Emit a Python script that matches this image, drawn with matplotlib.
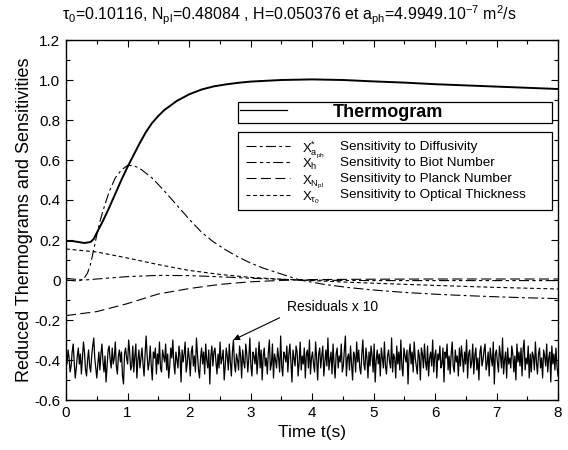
import numpy as np
import matplotlib
matplotlib.use("Agg")
import matplotlib.pyplot as plt
from matplotlib.lines import Line2D
from matplotlib.ticker import MultipleLocator, FuncFormatter

plt.rcParams['font.family'] = ['Liberation Sans', 'DejaVu Sans']
plt.rcParams['mathtext.fontset'] = 'custom'
plt.rcParams['mathtext.rm'] = 'Liberation Sans'
plt.rcParams['mathtext.it'] = 'Liberation Sans'
plt.rcParams['mathtext.default'] = 'regular'

# ---------------- data ----------------
thermo_t = [0, 0.1, 0.2, 0.3, 0.4, 0.45, 0.5, 0.6, 0.7, 0.8, 0.9, 1.0, 1.1, 1.2, 1.3,
            1.4, 1.5, 1.6, 1.8, 2.0, 2.2, 2.4, 2.6, 2.8, 3.0, 3.5, 4.0, 4.5, 5.0,
            5.5, 6.0, 6.5, 7.0, 7.5, 8.0]
thermo_y = [0.195, 0.195, 0.19, 0.185, 0.19, 0.205, 0.235, 0.295, 0.36, 0.43, 0.50, 0.565,
            0.625, 0.685, 0.74, 0.785, 0.82, 0.85, 0.895, 0.928, 0.952, 0.968, 0.978,
            0.986, 0.992, 1.0, 1.003, 1.0, 0.993, 0.987, 0.979, 0.973, 0.967, 0.961, 0.955]

diff_t = [0, 0.1, 0.2, 0.25, 0.3, 0.35, 0.4, 0.45, 0.5, 0.55, 0.6, 0.7, 0.8, 0.9, 1.0,
          1.1, 1.2, 1.4, 1.6, 1.8, 2.0, 2.2, 2.4, 2.6, 2.8, 3.0, 3.2, 3.5, 3.8, 4.2,
          4.6, 5.0, 5.5, 6.0, 6.5, 7.0, 7.5, 8.0]
diff_y = [0.0, -0.003, -0.005, 0.0, 0.012, 0.035, 0.08, 0.15, 0.225, 0.29, 0.345, 0.44,
          0.51, 0.55, 0.573, 0.572, 0.558, 0.51, 0.445, 0.375, 0.305, 0.24, 0.19, 0.15,
          0.115, 0.085, 0.06, 0.03, 0.0, -0.022, -0.038, -0.05, -0.062, -0.071, -0.078,
          -0.084, -0.089, -0.093]

biot_t = [0, 0.2, 0.3, 0.5, 1.0, 1.5, 2.0, 2.5, 3.0, 3.5, 4.0, 5.0, 6.0, 7.0, 8.0]
biot_y = [0.008, 0.002, 0.0, 0.005, 0.017, 0.023, 0.022, 0.016, 0.009, 0.003, -0.001,
          -0.003, -0.003, -0.003, -0.003]

planck_t = [0, 0.5, 1.0, 1.5, 2.0, 2.5, 3.0, 3.5, 4.0, 5.0, 6.0, 7.0, 8.0]
planck_y = [-0.178, -0.158, -0.118, -0.07, -0.043, -0.022, -0.009, -0.002, 0.002,
            0.004, 0.005, 0.005, 0.005]

optic_t = [0, 0.5, 1.0, 1.5, 2.0, 2.5, 3.0, 3.5, 3.8, 4.5, 5.0, 6.0, 7.0, 8.0]
optic_y = [0.155, 0.14, 0.11, 0.077, 0.048, 0.028, 0.013, 0.004, 0.0, -0.01, -0.016,
           -0.027, -0.037, -0.045]

# residuals x 10, plotted around -0.40, in hundredths
resid_base = -0.40
resid_hundredths = [
    3, -2, 5, 1, -6, -3, 4, 8, -1, -9, -4, 2, 6, -2, 3, -7, 1, 9, 4, -5, -8, 0, 5, -3,
    -6, 2, 7, 11, 1, -4, -9, -2, 4, -5, 3, 8, -1, -6, 2, -11, -3, 5, 7, 0, -4, 6, -2, 1,
    9, -3, -7, 2, 5, -1, 4, -8, -12, 3, 6, 1, -2, 10, 4, -5, -3, 7, -6, 2, 8, -9, 0, 5,
    -4, 1, 6, -2, -8, 3, 12, 2, -5, -1, 7, -3, -10, 4, 1, 6, -7, 3, -2, 9, -4, -6, 5, 2,
    -1, 8, -5, 3, -9, -3, 6, 1, 10, -2, -7, 4, 0, -4, 7, 2, -11, 5, -1, 3, 9, -6, -2, 6,
    1, -8, 4, 7, -3, 2, -6, 11, 3, -5, -9, 1, 6, -2, 4, -7, 8, 0, -4, 5, -12, 2, 7, -3,
    4, 6, -1, -7, 3, -4, 9, -2, 1, 5, -10, -3, 6, 2, -5, 8, -1, -8, 4, 10, -2, -6, 3, 0,
    -5, 7, 2, -9, 5, -1, -4, 8, 3, -6, 1, 11, -3, -8, 4, 2, -2, 6, -7, 1, 9, -4, 5, -10,
    2, 6, -3, 1, -7, 4, 10, -5, -2, 8, -9, 3, 0, -4, 6, 1, -6, 12, -3, -8, 4, 2, -1, 7,
    -6, 3, 8, -2, -11, 5, 1, -3, 7, 4, -8, -1, 9, -5, 2, -2, 6, -9, 3, 5, -4, 10, -7, 1,
    4, -2, -6, 9, 1, -10, 3, 6, -4, 2, 7, -8, -1, 5, -3, 11, -5, 0, 4, -7, 8, -2, -9, 3,
    6, -4, 2, -1, 8, -6, -3, 5, 12, -8, 1, 3, -5, 7, -2, -10, 4, 2, -6, 9, -1, 5, -4, -7,
    3, 10, -2, -5, 6, 1, -9, 4, -3, 7, 2, -6, 8, -11, 0, 5, -2, 3, -8, 6, 1, -4, 9, -3,
    -7, 2, 5, -1, -4, 11, -6, 3, 1, -9, 7, -2, 4, -5, 10, -3, -8, 6, 2, -1, 5, -12, 3, 8,
    -2, 4, -6, 9, 1, -3, -7, 5, 2, -10, 6, 3, -4, 8, -1, -5, 7, -8, 1, 4, -3, 10, -6, 2,
    5, -9, 3, 0, 7, -4, -2, 6, -11, 4, 1, 8, -5, 2, -7, 3, 9, -3, -6, 5, -1, 2, -8, 6,
    -3, 7, 1, -6, 4, -2, 10, -9, 3, 5, -4, -1, 8, -7, 2, 6, -5, 1, -10, 4, 7, -3, 0, 5,
    8, -5, -2, 4, -8, 6, 1, -3, 9, -12, 3, 5, -1, -6, 7, 2, -4, 11, -7, 0, 4, -9, 6, -2,
    1, -4, 7, 3, -6, 2, -10, 8, -1, 4, -3, 6, -8, 5, 10, -5, 1, -2, 7, -9, 3, -6, 4, 2,
    -5, 9, -1, -7, 3, 6, -4, 1, -9, 5, 2, -3, 8, -6, 1, 4, -11, 7, -2, 3, -5, 6, -3, -8,
]

sens_symbols = [r"$X^{*}_{a_{ph}}$", r"$X_{h}$", r"$X_{N_{pl}}$", r"$X_{\tau_0}$"]
sens_labels = ["Sensitivity to Diffusivity", "Sensitivity to Biot Number",
               "Sensitivity to Planck Number", "Sensitivity to Optical Thickness"]

title = (r"$\tau_0$=0.10116, N$_{pl}$=0.48084 , H=0.050376 et a$_{ph}$"
         r"=4.9949.10$^{-7}$ m$^2$/s")

# ---------------- figure ----------------
fig = plt.figure(figsize=(5.68, 4.50), dpi=100)
ax = fig.add_axes([66 / 568, 50 / 450, 492 / 568, 360 / 450])

styles = {
    'diff': dict(dashes=(9, 3, 2.5, 3)),
    'biot': dict(dashes=(9, 3, 3, 3, 3, 3)),
    'planck': dict(dashes=(9, 4)),
    'optic': dict(dashes=(3.5, 2.5)),
}
lw = 0.8
ax.plot(thermo_t, thermo_y, color='k', lw=1.4, solid_joinstyle='round')
ax.plot(diff_t, diff_y, color='k', lw=lw, **styles['diff'])
ax.plot(biot_t, biot_y, color='k', lw=lw, **styles['biot'])
ax.plot(planck_t, planck_y, color='k', lw=lw, **styles['planck'])
ax.plot(optic_t, optic_y, color='k', lw=lw, **styles['optic'])

resid = resid_base + np.array(resid_hundredths) / 100.0
resid_t = np.linspace(0, 8, len(resid))
ax.plot(resid_t, resid, color='k', lw=0.9)

ax.set_xlim(0, 8)
ax.set_ylim(-0.6, 1.2)
ax.xaxis.set_major_locator(MultipleLocator(1))
ax.xaxis.set_minor_locator(MultipleLocator(0.5))
ax.yaxis.set_major_locator(MultipleLocator(0.2))
ax.yaxis.set_minor_locator(MultipleLocator(0.1))
ax.yaxis.set_major_formatter(FuncFormatter(lambda v, p: "0" if abs(v) < 1e-9 else f"{v:.1f}"))
ax.xaxis.set_major_formatter(FuncFormatter(lambda v, p: f"{v:.0f}"))
ax.tick_params(which='both', direction='in', top=True, right=True, width=0.8,
               labelsize=11)
ax.tick_params(which='major', length=5, pad=4)
ax.tick_params(which='minor', length=3)
for s in ax.spines.values():
    s.set_linewidth(1.0)

ax.set_xlabel("Time t(s)", fontsize=12.5)
ax.xaxis.set_label_coords(0.5, -0.07)
ax.set_ylabel("Reduced Thermograms and Sensitivities", fontsize=13)
ax.yaxis.set_label_coords(-0.068, 0.5)

fig.text(0.51, 0.967, title, ha='center', va='center', fontsize=11.5)

# legend 1
h1 = Line2D([], [], color='k', lw=0.9)
leg1 = ax.legend([h1], ["Thermogram"], loc='upper left',
                 bbox_to_anchor=(0.3496, 0.772, 0.6386, 0.056), mode='expand',
                 prop=dict(weight='bold', size=13), fancybox=False, edgecolor='k',
                 framealpha=1, borderaxespad=0, borderpad=0.1,
                 handlelength=2.6, handletextpad=2.55)
leg1.get_frame().set_linewidth(0.9)
ax.add_artist(leg1)

# legend 2 (row layout from the legend, symbols/descriptions laid on its rows)
handles = [Line2D([], [], color='k', lw=lw, **styles[k])
           for k in ['diff', 'biot', 'planck', 'optic']]
leg2 = ax.legend(handles, ["X"] * 4, loc='upper left',
                 bbox_to_anchor=(0.3496, 0.522, 0.6386, 0.222), mode='expand',
                 fontsize=10, fancybox=False, edgecolor='k', framealpha=1,
                 borderaxespad=0, borderpad=0.55, labelspacing=0.16,
                 handlelength=3.2, handletextpad=0.85)
leg2.get_frame().set_linewidth(0.9)
for t in leg2.get_texts():
    t.set_alpha(0)

fig.canvas.draw()
inv = ax.transAxes.inverted()
fs_px = 10 * 100 / 72
for txt, sym, lab in zip(leg2.get_texts(), sens_symbols, sens_labels):
    bb = txt.get_window_extent()
    xa, yc = inv.transform((bb.x0, (bb.y0 + bb.y1) / 2))
    _, yb = inv.transform((bb.x0, (bb.y0 + bb.y1) / 2 - 0.36 * fs_px))
    ax.text(xa, yb, sym, transform=ax.transAxes, va='baseline', ha='left',
            fontsize=9.5, zorder=7)
    ax.text((340 - 66) / 492, yc, lab, transform=ax.transAxes, va='center',
            ha='left', fontsize=9.7, zorder=7)

ax.annotate("Residuals x 10", xy=(2.72, -0.30), xytext=(3.6, -0.135),
            ha='left', va='center', fontsize=10,
            arrowprops=dict(arrowstyle='-|>', color='k', lw=0.8,
                            relpos=(0.0, 0.0), shrinkA=4, shrinkB=0,
                            mutation_scale=9))

fig.savefig("out.png", dpi=100)
